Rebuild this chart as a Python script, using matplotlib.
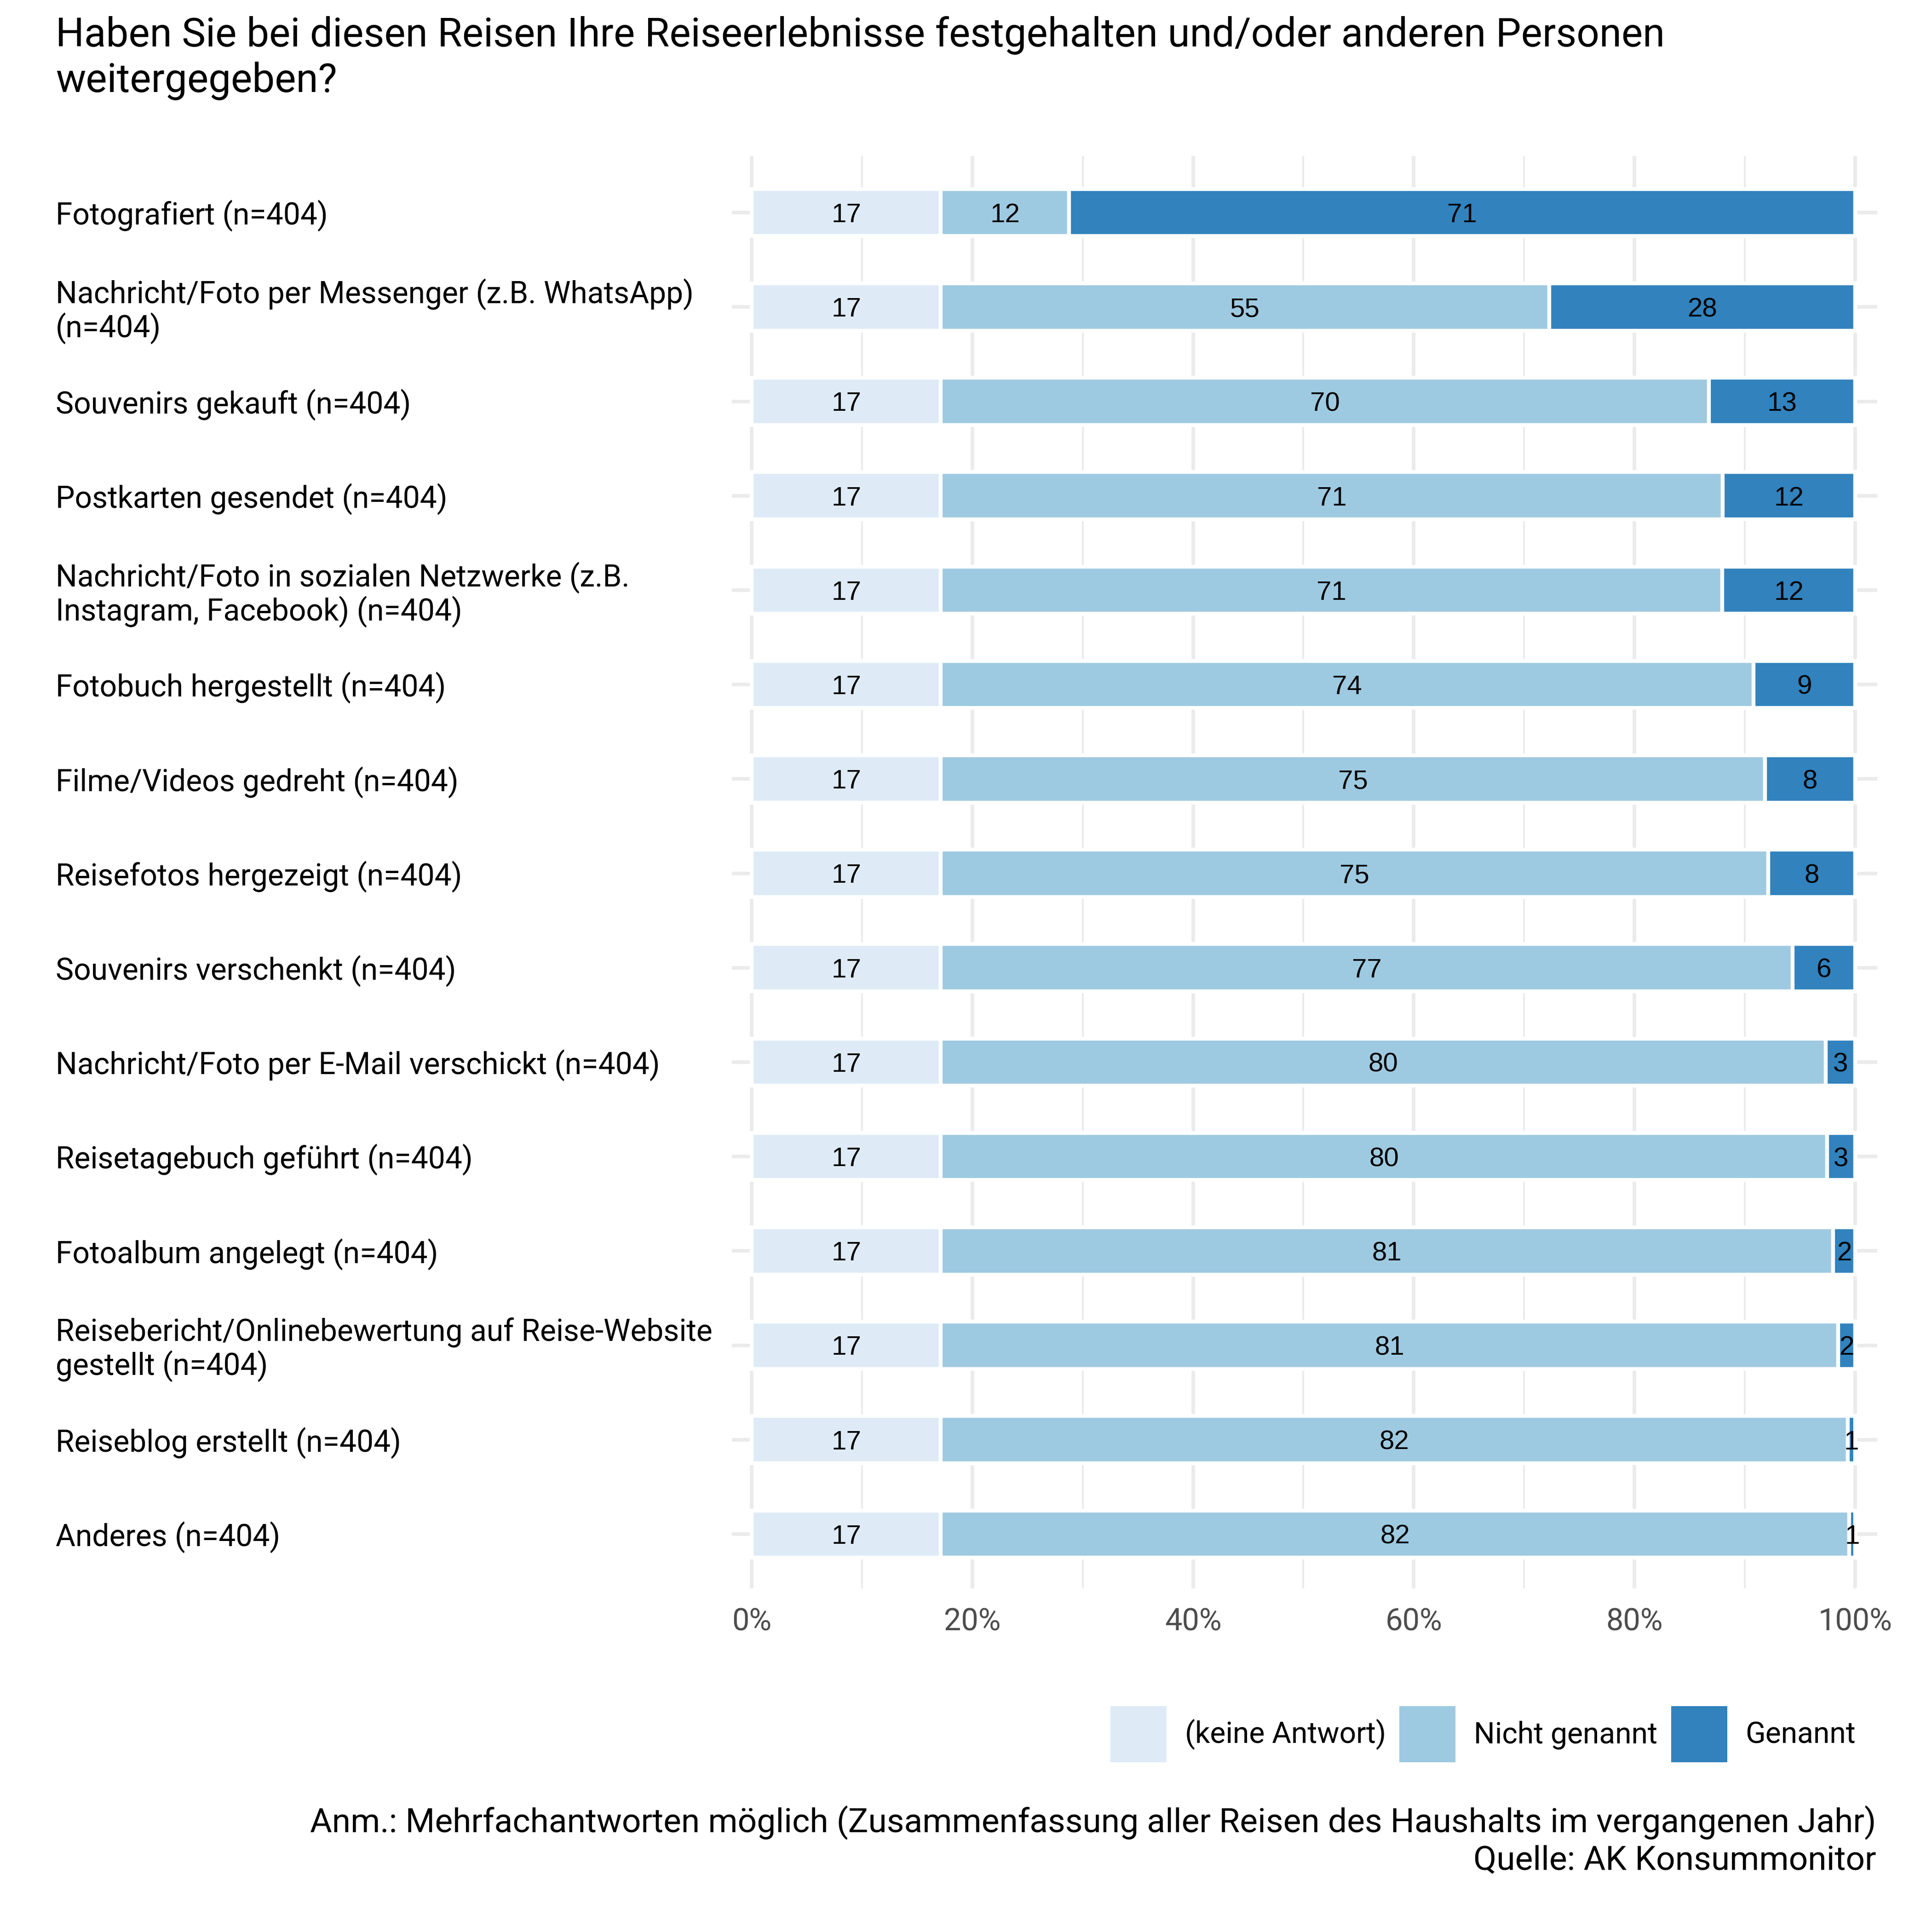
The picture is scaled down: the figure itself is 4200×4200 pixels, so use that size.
import numpy as np
import matplotlib
matplotlib.use("Agg")
import matplotlib.pyplot as plt
from matplotlib.patches import Patch
from matplotlib.ticker import MultipleLocator, FuncFormatter
from matplotlib.transforms import offset_copy

plt.rcParams['font.family'] = ['Roboto', 'DejaVu Sans']

title = ("Haben Sie bei diesen Reisen Ihre Reiseerlebnisse festgehalten und/oder anderen Personen\n"
         "weitergegeben?")
caption = ("Anm.: Mehrfachantworten möglich (Zusammenfassung aller Reisen des Haushalts im vergangenen Jahr)\n"
           "Quelle: AK Konsummonitor")

categories = [
    "Fotografiert (n=404)",
    "Nachricht/Foto per Messenger (z.B. WhatsApp)\n(n=404)",
    "Souvenirs gekauft (n=404)",
    "Postkarten gesendet (n=404)",
    "Nachricht/Foto in sozialen Netzwerke (z.B.\nInstagram, Facebook) (n=404)",
    "Fotobuch hergestellt (n=404)",
    "Filme/Videos gedreht (n=404)",
    "Reisefotos hergezeigt (n=404)",
    "Souvenirs verschenkt (n=404)",
    "Nachricht/Foto per E-Mail verschickt (n=404)",
    "Reisetagebuch geführt (n=404)",
    "Fotoalbum angelegt (n=404)",
    "Reisebericht/Onlinebewertung auf Reise-Website\ngestellt (n=404)",
    "Reiseblog erstellt (n=404)",
    "Anderes (n=404)",
]

series_names = ["(keine Antwort)", "Nicht genannt", "Genannt"]
colors = ["#DEEBF7", "#9ECAE1", "#3182BD"]

# percent values per category
keine = [17.15] * 15
nicht = [11.6, 55.13, 69.6, 70.85, 70.8, 73.64, 74.68, 74.97, 77.18, 80.18, 80.31, 80.85, 81.3, 82.18, 82.3]
genannt = [71.25, 27.72, 13.25, 12.0, 12.05, 9.21, 8.17, 7.88, 5.67, 2.67, 2.54, 2.0, 1.55, 0.67, 0.55]

data = np.array([keine, nicht, genannt]) / 100.0
y = np.arange(len(categories))

fig = plt.figure(figsize=(14, 14), dpi=300)
ax = fig.add_axes([0.37881, 0.17786, 0.59286, 0.74143])

# bar labels: baseline shifted down by half the digit height
label_tr = offset_copy(ax.transData, fig=fig, y=-5.0, units="points")

left = np.zeros(len(categories))
for vals, name, col in zip(data, series_names, colors):
    ax.barh(y, vals, left=left, height=0.5, color=col, edgecolor="white",
            linewidth=2, label=name, zorder=2)
    for yi, l, v in zip(y, left, vals):
        ax.text(l + v / 2, yi, f"{v * 100:.0f}", ha="center", va="baseline",
                transform=label_tr, fontsize=14,
                family=["Liberation Sans", "DejaVu Sans"], color="black", zorder=3)
    left = left + vals

ax.set_xlim(-0.0179, 1.02)
ax.set_ylim(14.575, -0.6)

ax.xaxis.set_major_locator(MultipleLocator(0.2))
ax.xaxis.set_minor_locator(MultipleLocator(0.1))
ax.xaxis.set_major_formatter(FuncFormatter(lambda v, p: f"{v * 100:.0f}%"))
ax.set_yticks(y)
ax.set_yticklabels(categories, fontsize=15.8, color="black", ha="left", linespacing=1.1)

ax.set_axisbelow(True)
ax.grid(True, which="major", color="#EBEBEB", linewidth=1.85, zorder=0)
ax.grid(True, which="minor", axis="x", color="#EBEBEB", linewidth=0.95, zorder=0)
for s in ax.spines.values():
    s.set_visible(False)
ax.tick_params(axis="both", which="both", length=0)
ax.tick_params(axis="y", pad=352.8)
ax.tick_params(axis="x", pad=10, labelsize=16, labelcolor="#4D4D4D")

# multi-line text with va="baseline" anchors the last line
fig.text(0.0288, 0.95238, title, ha="left", va="baseline", fontsize=20.88,
         color="black", linespacing=1.22)

handles = [Patch(facecolor=c, edgecolor="none") for c in colors]
fig.legend(handles=handles, labels=series_names, loc="center right",
           bbox_to_anchor=(0.9605, 0.1024), ncol=3, frameon=False, fontsize=15.4,
           handlelength=1.9, handleheight=2.55, handletextpad=0.62,
           columnspacing=0.46, borderpad=0, borderaxespad=0)

fig.text(0.9712, 0.03238, caption, ha="right", va="baseline", fontsize=17.57,
         color="black", linespacing=1.2)

fig.savefig("out.png", dpi=300, facecolor="white")
